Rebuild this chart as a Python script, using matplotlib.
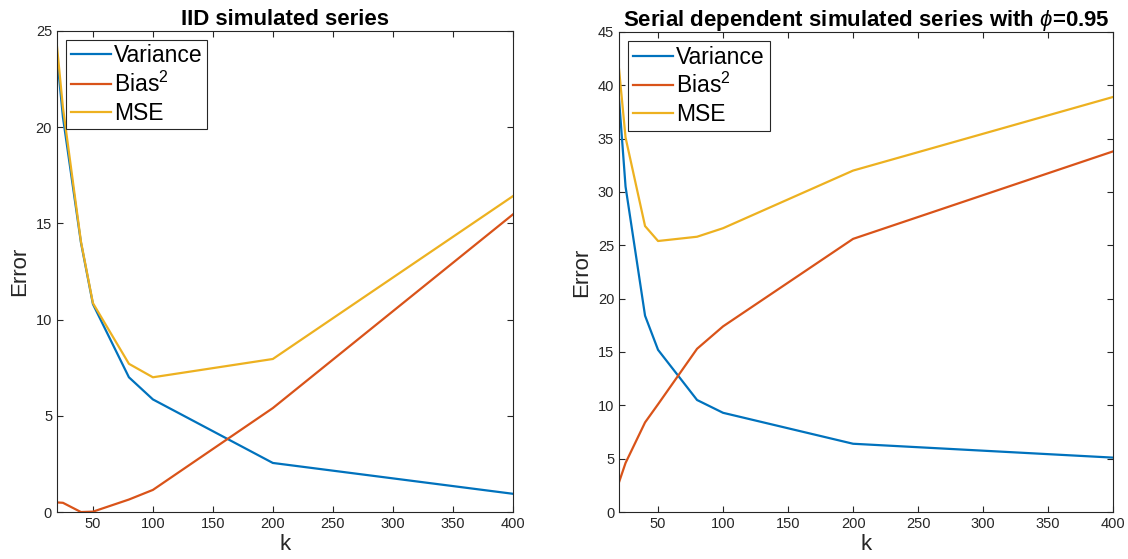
import matplotlib
matplotlib.use('Agg')
import matplotlib.pyplot as plt

plt.rcParams['font.family'] = ['Liberation Sans', 'DejaVu Sans']
plt.rcParams['mathtext.fontset'] = 'custom'
plt.rcParams['mathtext.rm'] = 'Liberation Sans'
plt.rcParams['mathtext.it'] = 'Liberation Sans:italic'

k = [20, 25, 40, 50, 80, 100, 200, 400]

# IID simulated series
iid_var = [23.7, 20.5, 14.0, 10.8, 7.0, 5.85, 2.55, 0.95]
iid_bias2 = [0.5, 0.48, 0.0, 0.02, 0.65, 1.15, 5.4, 15.45]
iid_mse = [24.2, 21.0, 14.05, 10.85, 7.7, 7.0, 7.95, 16.4]

# serial dependent, phi = 0.95
ser_var = [38.7, 30.5, 18.4, 15.2, 10.5, 9.3, 6.4, 5.1]
ser_bias2 = [2.8, 4.6, 8.4, 10.1, 15.3, 17.4, 25.6, 33.8]
ser_mse = [41.5, 35.1, 26.8, 25.4, 25.8, 26.6, 32.0, 38.9]

colors = ['#0072BD', '#D95319', '#EDB120']
labels = ['Variance', 'Bias$^2$', 'MSE']


def draw_panel(ax, var, bias2, mse, title, ymax, ystep):
    for vals, c, lab in zip([var, bias2, mse], colors, labels):
        ax.plot(k, vals, color=c, lw=1.6, label=lab)
    ax.set_xlim(20, 400)
    ax.set_ylim(0, ymax)
    ax.set_xticks(range(50, 401, 50))
    ax.set_yticks(range(0, ymax + 1, ystep))
    ax.tick_params(direction='in', labelsize=10.5, colors='#262626',
                   top=True, right=True, length=4)
    for s in ax.spines.values():
        s.set_color('#262626')
        s.set_linewidth(0.8)
    ax.set_xlabel('k', fontsize=16, color='#262626', labelpad=2)
    ax.set_ylabel('Error', fontsize=16, color='#262626', labelpad=4)
    ax.set_title(title, fontsize=16, fontweight='bold', pad=4)
    leg = ax.legend(loc='upper left', fontsize=16.5, fancybox=False,
                    framealpha=1, edgecolor='#262626', handlelength=1.75,
                    borderpad=0.2, labelspacing=0.2, handletextpad=0.15,
                    borderaxespad=0.4)
    leg.get_frame().set_linewidth(0.8)


fig = plt.figure(figsize=(11.28, 5.59), dpi=100)
ax1 = fig.add_axes([0.0505, 0.084, 0.404, 0.861])
ax2 = fig.add_axes([0.5488, 0.084, 0.438, 0.859])

draw_panel(ax1, iid_var, iid_bias2, iid_mse, 'IID simulated series', 25, 5)
draw_panel(ax2, ser_var, ser_bias2, ser_mse,
           r'Serial dependent simulated series with $\phi$=0.95', 45, 5)

fig.savefig('out.png', dpi=100)
